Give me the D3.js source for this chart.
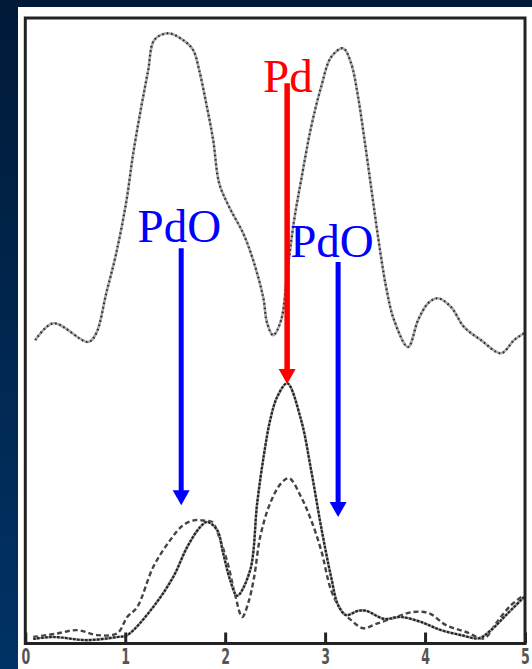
<!DOCTYPE html>
<html>
<head>
<meta charset="utf-8">
<script src="https://cdn.jsdelivr.net/npm/d3@7"></script>
<style>
  html, body { margin: 0; padding: 0; background: #001b3b; }
  svg { display: block; }
</style>
</head>
<body>
<svg id="chart" width="532" height="669"></svg>
<script>
// Tick values of the distance axis
var xTicks = [0, 1, 2, 3, 4, 5];

// Upper trace (dotted), [distance, magnitude]
var upperTrace = [
	[0.10, 48.3], [0.28, 51.0], [0.63, 48.0], [0.71, 49.4], [0.81, 55.8], [0.91, 62.2],
	[1.01, 70.4], [1.08, 78.2], [1.16, 85.6], [1.23, 91.5], [1.29, 96.3], [1.43, 97.4],
	[1.58, 96.3], [1.68, 94.7], [1.74, 91.5], [1.81, 86.2], [1.88, 80.3], [1.94, 73.4],
	[2.04, 69.6], [2.18, 65.4], [2.28, 61.1], [2.38, 55.2], [2.42, 51.0], [2.48, 49.1],
	[2.56, 51.5], [2.62, 59.0], [2.69, 67.5], [2.76, 73.9], [2.86, 82.4], [2.96, 88.8],
	[3.06, 93.6], [3.18, 95.0], [3.26, 92.6], [3.33, 87.2], [3.39, 80.8], [3.46, 72.8],
	[3.53, 64.8], [3.61, 56.8], [3.69, 51.5], [3.83, 47.2], [3.93, 51.5], [4.03, 54.2],
	[4.13, 55.0], [4.26, 53.6], [4.39, 50.4], [4.56, 48.3], [4.76, 46.2], [4.89, 48.3],
	[4.99, 49.4]
];

// Lower trace, solid line
var solidTrace = [
	[0.08, 0.5], [0.28, 0.8], [0.62, 0.3], [0.92, 0.8], [1.02, 1.1], [1.28, 5.6],
	[1.48, 10.4], [1.62, 15.2], [1.75, 18.4], [1.82, 19.2], [1.92, 17.9], [1.98, 14.2],
	[2.05, 9.9], [2.12, 7.4], [2.25, 11.5], [2.32, 22.2], [2.39, 30.2], [2.45, 35.5],
	[2.52, 39.2], [2.62, 41.4], [2.76, 35.5], [2.86, 27.5], [2.96, 18.4], [3.06, 10.4],
	[3.13, 5.9], [3.21, 4.3], [3.33, 5.0], [3.41, 5.0], [3.59, 3.7], [3.76, 4.0],
	[3.96, 3.2], [4.16, 1.9], [4.36, 1.1], [4.54, 0.6], [4.66, 1.9], [4.81, 4.3],
	[4.99, 7.2]
];

// Lower trace, dashed line
var dashedTrace = [
	[0.08, 0.8], [0.30, 1.3], [0.52, 1.9], [0.72, 1.1], [0.92, 1.4], [1.02, 4.0],
	[1.12, 5.6], [1.28, 12.0], [1.45, 16.3], [1.58, 18.7], [1.70, 19.5], [1.80, 19.4],
	[1.87, 19.2], [1.95, 16.3], [2.03, 12.3], [2.10, 7.5], [2.17, 4.0], [2.23, 6.2],
	[2.29, 10.4], [2.35, 16.8], [2.45, 22.2], [2.56, 25.4], [2.64, 26.2], [2.76, 23.2],
	[2.86, 19.5], [2.96, 14.7], [3.06, 8.3], [3.16, 5.1], [3.26, 3.5], [3.38, 2.2],
	[3.51, 2.9], [3.71, 4.0], [3.88, 4.8], [4.04, 4.6], [4.21, 2.7], [4.41, 1.6],
	[4.59, 0.6], [4.71, 3.0], [4.86, 5.9], [4.99, 7.5]
];

// Annotations: label, arrow distance, arrow start / end, label anchor
var arrowLabels = ['PdO', 'Pd', 'PdO'];
var arrowX = [1.56, 2.62, 3.13];
var arrowFrom = [63.0, 89.4, 60.8];
var arrowTo = [21.9, 41.3, 20.0];
var labelX = [1.123, 2.379, 2.650];
var labelY = [64.0, 88.0, 61.6];
var arrowColors = ['#0000ff', '#ff0000', '#0000ff'];

var W = 532, H = 669;
var frame = {left: 25.3, right: 525, top: 18, bottom: 643.5};
var svg = d3.select('#chart');

// Background gradient
var grad = svg.append('defs').append('linearGradient')
	.attr('id', 'bg').attr('x1', 0).attr('y1', 0).attr('x2', 0).attr('y2', 1);
grad.append('stop').attr('offset', '0%').attr('stop-color', '#001a38');
grad.append('stop').attr('offset', '100%').attr('stop-color', '#003366');
svg.append('rect').attr('width', W).attr('height', H).attr('fill', 'url(#bg)');

// White slide panel
svg.append('rect').attr('x', 18).attr('y', 7).attr('width', W - 18).attr('height', H - 7)
	.attr('fill', '#ffffff');

var x = d3.scaleLinear().domain([0, 5]).range([frame.left, frame.right]);
var y = d3.scaleLinear().domain([0, 100]).range([642, 17]);

var line = d3.line()
	.x(d => x(d[0])).y(d => y(d[1]))
	.curve(d3.curveCatmullRom.alpha(0.5));

// Upper dotted trace: light base with dark dots
svg.append('path').datum(upperTrace).attr('d', line)
	.attr('fill', 'none').attr('stroke', '#a8a8a8').attr('stroke-width', 2.6);
svg.append('path').datum(upperTrace).attr('d', line)
	.attr('fill', 'none').attr('stroke', '#2a2a2a').attr('stroke-width', 2.2)
	.attr('stroke-dasharray', '1.5,3');

// Lower traces
svg.append('path').datum(dashedTrace).attr('d', line)
	.attr('fill', 'none').attr('stroke', '#444').attr('stroke-width', 2.4)
	.attr('stroke-dasharray', '5,3');
svg.append('path').datum(solidTrace).attr('d', line)
	.attr('fill', 'none').attr('stroke', '#9a9a9a').attr('stroke-width', 2.6);
svg.append('path').datum(solidTrace).attr('d', line)
	.attr('fill', 'none').attr('stroke', '#222').attr('stroke-width', 2.2)
	.attr('stroke-dasharray', '2.5,1.5');

// Frame
svg.append('rect')
	.attr('x', frame.left).attr('y', frame.top)
	.attr('width', frame.right - frame.left).attr('height', frame.bottom - frame.top)
	.attr('fill', 'none').attr('stroke', '#222').attr('stroke-width', 3);

// Bottom axis with inward ticks
var axis = svg.append('g')
	.attr('transform', 'translate(0,' + frame.bottom + ')')
	.call(d3.axisBottom(x).tickValues(xTicks).tickFormat(d3.format('d'))
		.tickSizeInner(-11).tickSizeOuter(0));
axis.select('.domain').remove();
axis.selectAll('.tick line').attr('stroke', '#222').attr('stroke-width', 3);
axis.selectAll('.tick text')
	.attr('y', 20.5).attr('dy', 0)
	.attr('transform', 'scale(0.6,1)')
	.style('font-family', 'DejaVu Sans').style('font-size', '21px')
	.style('font-weight', 'bold').attr('fill', '#555');

// Arrows and labels
var head = 15, half = 8.5;
arrowLabels.forEach(function(label, i) {
	var ax = x(arrowX[i]), y0 = y(arrowFrom[i]), y1 = y(arrowTo[i]);
	svg.append('line')
		.attr('x1', ax).attr('x2', ax).attr('y1', y0).attr('y2', y1 - head + 1)
		.attr('stroke', arrowColors[i]).attr('stroke-width', i == 1 ? 5.5 : 5);
	svg.append('polygon')
		.attr('points', [[ax - half, y1 - head], [ax + half, y1 - head], [ax, y1]].join(' '))
		.attr('fill', arrowColors[i]);
	svg.append('text')
		.attr('x', x(labelX[i])).attr('y', y(labelY[i]))
		.style('font-family', 'Liberation Serif').style('font-size', '47px')
		.attr('fill', arrowColors[i])
		.text(label);
});
</script>
</body>
</html>
